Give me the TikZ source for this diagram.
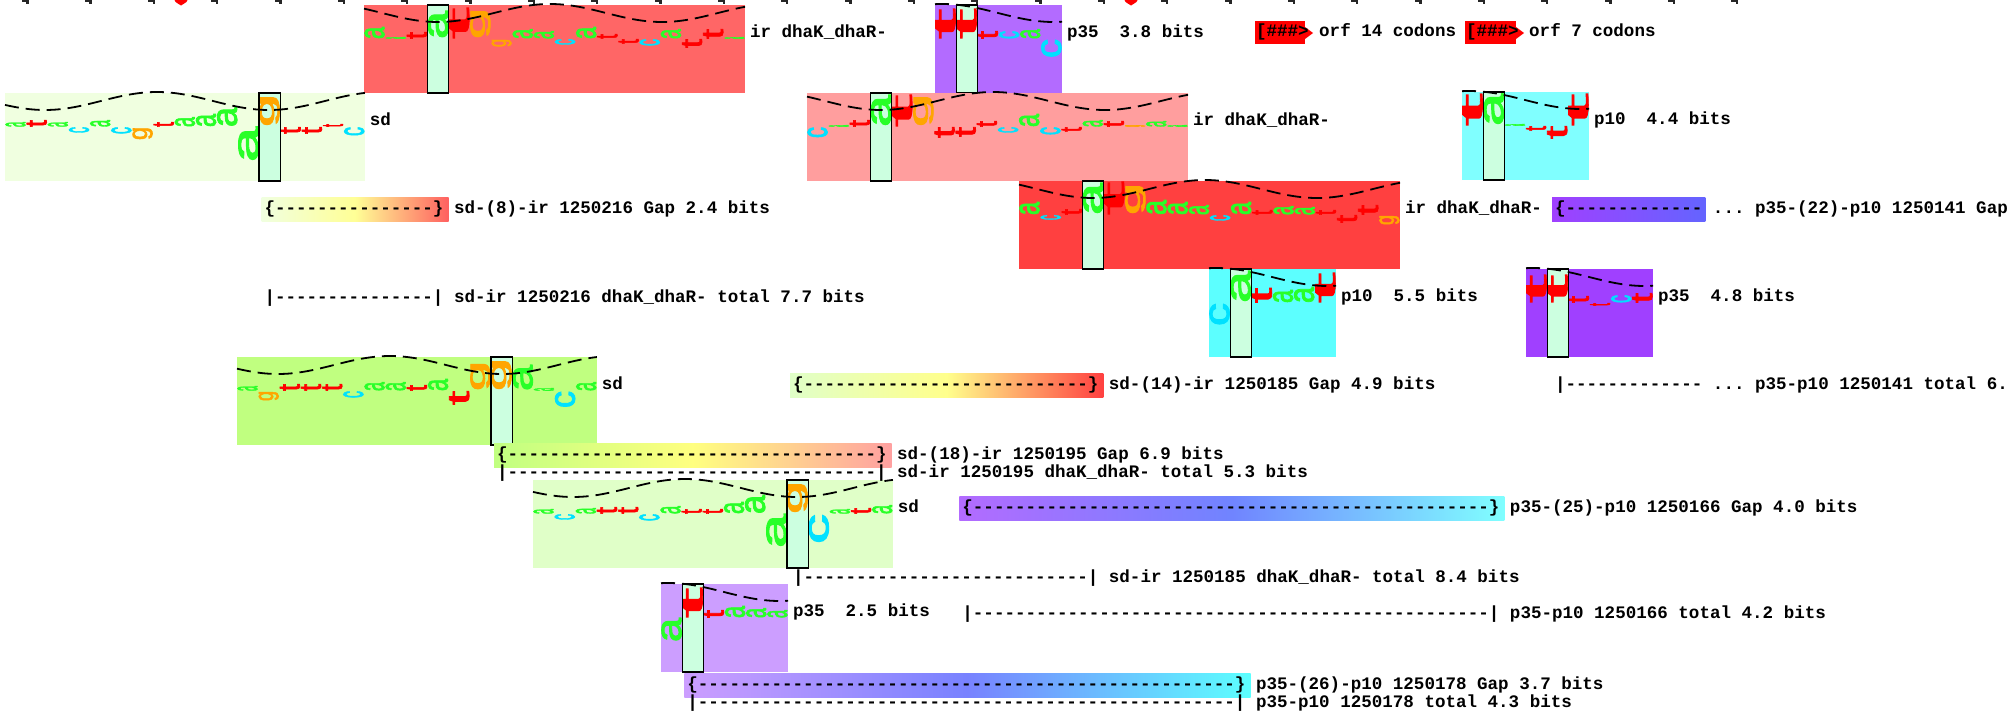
\documentclass[tikz,border=0pt]{standalone}
\usepackage{fontspec}
\setmonofont{Liberation Mono}
\newfontfamily\lfont[FakeBold=2.5]{Liberation Sans}
\ExplSyntaxOn
\newcommand\dsh[1]{\prg_replicate:nn{#1}{-}}
\ExplSyntaxOff
\definecolor{la}{RGB}{40,255,40}
\definecolor{lc}{RGB}{0,225,255}
\definecolor{lg}{RGB}{255,165,0}
\definecolor{lt}{RGB}{255,0,0}
\definecolor{barc}{RGB}{204,255,224}
\definecolor{cR1}{RGB}{255,102,102}
\definecolor{cP1}{RGB}{179,107,255}
\definecolor{cSD1}{RGB}{240,255,224}
\definecolor{cPK}{RGB}{255,158,158}
\definecolor{cCY1}{RGB}{128,255,255}
\definecolor{cR2}{RGB}{255,64,64}
\definecolor{cCY2}{RGB}{92,255,255}
\definecolor{cP2}{RGB}{160,64,255}
\definecolor{cSD2}{RGB}{192,255,128}
\definecolor{cSD3}{RGB}{224,255,200}
\definecolor{cP3}{RGB}{204,158,255}
\definecolor{gy}{RGB}{255,255,150}
\definecolor{gb}{RGB}{112,132,255}
\newcounter{ln}
\def\pw{21.17}
\def\lw{19.9}
\tikzset{
  ltr/.style={inner sep=0pt,outer sep=0pt},
  txt/.style={inner sep=0pt,outer sep=0pt,anchor=mid west,font=\fontsize{17.55}{21}\selectfont\ttfamily\bfseries},
  wave/.style={line width=1.8pt,dash pattern=on 14pt off 7pt},
  barfill/.style={fill=barc},
  barline/.style={draw=black,line width=1.3pt},
}
% #1 left, #2 top, #3 npos, #4 bar idx, #5 fill, #6 wave xmin, #7 label name, #8 label, #9 letters
\newcommand\walker[9]{%
  \pgfmathsetmacro\wL{#1}%
  \pgfmathsetmacro\wR{#1+#3*\pw}%
  \pgfmathsetmacro\wB{#2+88}%
  \pgfmathsetmacro\wBase{#2+34}%
  \pgfmathsetmacro\bL{#1+#4*\pw}%
  \pgfmathsetmacro\bR{#1+(#4+1)*\pw}%
  \fill[#5] (\wL,#2) rectangle (\wR,\wB);
  \fill[barfill] (\bL,#2) rectangle (\bR,\wB);
  \foreach \i/\ch/\h in {#9}{%
    \pgfmathsetmacro\xx{#1+\i*\pw+0.6}%
    \stepcounter{ln}%
    \ifdim\h pt>0pt\relax
      \node[ltr,anchor=south west] (L\arabic{ln}) at (\xx,\wBase) {\resizebox*{\lw pt}{\h pt}{\rotatebox{90}{\lfont\color{l\ch}\ch}}};%
    \else
      \pgfmathsetmacro\hh{-\h}%
      \node[ltr,anchor=north west] (L\arabic{ln}) at (\xx,\wBase) {\resizebox*{\lw pt}{\hh pt}{\rotatebox{90}{\lfont\color{l\ch}\ch}}};%
    \fi
  }%
  \draw[barline] (\bL,#2) rectangle (\bR,\wB);
  \draw[wave] plot[domain=\wL:\wR,samples=90,smooth] (\x,{#2+8+9*cos((\x-#6)*1.6071)});
  \node[txt] (#7) at (\wR+5,#2+30) {#8};
}
\begin{document}
\begin{tikzpicture}[x=1pt,y=-1pt]
\useasboundingbox (0,0) rectangle (2007,720);
\fill[white] (0,0) rectangle (2007,720);
% top ruler
\foreach \k in {0,...,27}{
  \pgfmathsetmacro\tx{25+63.33*\k}
  \fill[black!85] (\tx-3.5,0) rectangle (\tx+3.5,2.2);
  \fill[black!85] (\tx+1,0) rectangle (\tx+3.5,4);
}
\foreach \rx in {181,1131}{
  \fill[red] (\rx-6.5,0) .. controls (\rx-6,3) and (\rx-2,3.5) .. (\rx,5.5) .. controls (\rx+2,3.5) and (\rx+6,3) .. (\rx+6.5,0) -- cycle;
}
% walkers
\walker{364}{5}{18}{3}{cR1}{438}{wR1}{ir dhaK\_dhaR-}{0/a/12,1/a/2,2/t/7,3/a/28,4/t/31,5/g/31,6/g/-8,7/a/10,8/a/8,9/c/-6,10/a/12,11/t/5,12/t/-5,13/c/-7,14/a/10,15/t/-9,16/t/10,17/a/2}
\walker{935}{5}{6}{1}{cP1}{1054}{wP1}{p35\ \ 3.8 bits}{0/t/30,1/t/30,2/t/8,3/c/8,4/a/10,5/c/-19}
\walker{5}{93}{17}{12}{cSD1}{269}{wSD1}{sd}{0/a/5,1/t/7,2/a/5,3/c/-6,4/a/7,5/c/-7,6/g/-13,7/t/5,8/a/10,9/a/13,10/a/20,11/a/-35,12/g/33,13/t/-7,14/t/-7,15/t/3,16/c/-9}
\walker{807}{93}{18}{3}{cPK}{881}{wPK}{ir dhaK\_dhaR-}{0/c/-11,1/a/2,2/t/7,3/a/32,4/t/32,5/g/33,6/t/-11,7/t/-10,8/t/6,9/c/-6,10/a/13,11/c/-8,12/t/-5,13/a/7,14/t/6,15/g/2,16/a/6,17/a/2}
\walker{1462}{92}{6}{1}{cCY1}{1581}{wCY1}{p10\ \ 4.4 bits}{0/t/32,1/a/33,2/a/2,3/t/-5,4/t/-13,5/t/32}
\walker{1019}{181}{18}{3}{cR2}{1093}{wR2}{ir dhaK\_dhaR-}{0/a/13,1/c/-5,2/t/6,3/a/32,4/t/33,5/g/32,6/a/15,7/a/13,8/a/10,9/c/-6,10/a/13,11/t/5,12/a/9,13/a/8,14/t/5,15/t/-8,16/t/10,17/g/-10}
\walker{1209}{269}{6}{1}{cCY2}{1328}{wCY2}{p10\ \ 5.5 bits}{0/c/-23,1/a/32,2/t/15,3/a/13,4/a/16,5/t/30}
\walker{1526}{269}{6}{1}{cP2}{1645}{wP2}{p35\ \ 4.8 bits}{0/t/28,1/t/28,2/t/7,3/t/-3,4/c/8,5/t/10}
\walker{237}{357}{17}{12}{cSD2}{502}{wSD2}{sd}{0/a/5,1/g/-10,2/t/7,3/t/7,4/t/7,5/c/-7,6/a/9,7/a/9,8/t/6,9/a/12,10/t/-14,11/g/30,12/g/33,13/a/26,14/a/3,15/c/-17,16/a/9}
\walker{533}{480}{17}{12}{cSD3}{797}{wSD3}{sd}{0/a/5,1/c/-6,2/a/6,3/t/7,4/t/7,5/c/-7,6/a/8,7/t/5,8/t/5,9/a/12,10/a/19,11/a/-34,12/g/33,13/c/-30,14/a/5,15/t/6,16/a/9}
\walker{661}{584}{6}{1}{cP3}{780}{wP3}{p35\ \ 2.5 bits}{0/a/-24,1/t/30,2/t/8,3/a/12,4/a/10,5/a/8}
% orfs
\fill[red] (1255,21) rectangle (1305,44);
\fill[red] (1305,27) -- (1313,33) -- (1305,39) -- cycle;
\node[txt] (orf1) at (1256,34) {[\#\#\#> orf 14 codons};
\fill[red] (1465,21) rectangle (1516,44);
\fill[red] (1516,27) -- (1524,33) -- (1516,39) -- cycle;
\node[txt] (orf2) at (1466,34) {[\#\#\#> orf 7 codons};
% gap boxes
\shade[left color=cSD1,right color={rgb,255:red,255;green,96;blue,96},middle color=gy] (261.5,197) rectangle (448.5,221);
\node[txt] (g1) at (264.5,211) {\{\dsh{15}\} sd-(8)-ir 1250216 Gap 2.4 bits};
\node[txt] (t1) at (264.5,300) {|\dsh{15}| sd-ir 1250216 dhaK\_dhaR- total 7.7 bits};
\shade[left color=cP2,right color={rgb,255:red,100;green,100;blue,255}] (1552,197) rectangle (1705.4,221);
\node[txt] (g2) at (1555,211) {\{\dsh{13} ... p35-(22)-p10 1250141 Gap};
\node[txt] (t2) at (1555,387) {|\dsh{13} ... p35-p10 1250141 total 6.};
\shade[left color=cSD3,right color=cR2,middle color={rgb,255:red,255;green,255;blue,140}] (790,373) rectangle (1103.4,397);
\node[txt] (g3) at (793,387) {\{\dsh{27}\} sd-(14)-ir 1250185 Gap 4.9 bits};
\shade[left color=cSD2,right color={rgb,255:red,255;green,160;blue,160},middle color={rgb,255:red,255;green,255;blue,128}] (494,443) rectangle (891.6,467);
\node[txt] (g4) at (497,457) {\{\dsh{35}\} sd-(18)-ir 1250195 Gap 6.9 bits};
\node[txt] (t3) at (497,475) {|\dsh{35}| sd-ir 1250195 dhaK\_dhaR- total 5.3 bits};
\shade[left color=cP1,right color=cCY1,middle color=gb] (959.4,496) rectangle (1504.4,520);
\node[txt] (g5) at (962.4,510) {\{\dsh{49}\} p35-(25)-p10 1250166 Gap 4.0 bits};
\node[txt] (t4) at (793,580) {|\dsh{27}| sd-ir 1250185 dhaK\_dhaR- total 8.4 bits};
\node[txt] (t5) at (962.4,616) {|\dsh{49}| p35-p10 1250166 total 4.2 bits};
\shade[left color=cP3,right color=cCY2,middle color={rgb,255:red,120;green,130;blue,255}] (684.4,673) rectangle (1250.5,697);
\node[txt] (g6) at (687.4,687) {\{\dsh{51}\} p35-(26)-p10 1250178 Gap 3.7 bits};
\node[txt] (t6) at (687.4,705) {|\dsh{51}| p35-p10 1250178 total 4.3 bits};
\end{tikzpicture}
\end{document}
